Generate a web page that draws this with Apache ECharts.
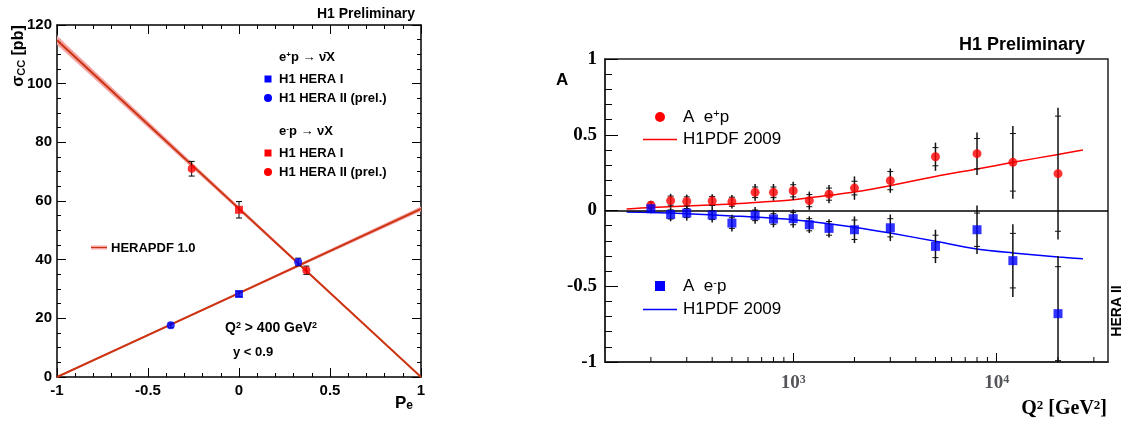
<!DOCTYPE html>
<html><head><meta charset="utf-8">
<script src="https://cdn.jsdelivr.net/npm/echarts@6/dist/echarts.min.js"></script>
<style>html,body{margin:0;padding:0;background:#fff}#c{width:1128px;height:423px}</style>
</head><body><div id="c"></div>
<script>
// ---------- Left panel data (sigma_CC vs P_e) ----------
const leftP = [-1, 0, 1];
const epFit = [0, 28.6, 57.3];
const epBandHalf = [0.2, 0.4, 0.8];
const emFit = [114.8, 57.4, 0];
const emBandHalf = [1.5, 0.7, 0.2];
// [P_e, sigma, error]
const epHera1 = [[0, 28.3, 0.8]];
const epHera2 = [[-0.375, 17.6, 0.8], [0.325, 39.2, 1.3]];
const emHera1 = [[0, 57.0, 2.8]];
const emHera2 = [[-0.26, 71.0, 2.5], [0.37, 36.4, 1.4]];

// ---------- Right panel data (A vs Q^2) ----------
const q2 = [200, 250, 300, 400, 500, 650, 800, 1000, 1200, 1500, 2000, 3000, 5000, 8000, 12000, 20000];
const aPos = [0.035, 0.065, 0.06, 0.063, 0.058, 0.12, 0.12, 0.13, 0.065, 0.108, 0.148, 0.197, 0.355, 0.375, 0.318, 0.243];
const aPosStat = [0.02, 0.03, 0.03, 0.03, 0.03, 0.035, 0.035, 0.04, 0.04, 0.04, 0.045, 0.06, 0.06, 0.1, 0.19, 0.38];
const aPosTot = [0.03, 0.045, 0.045, 0.045, 0.045, 0.055, 0.055, 0.06, 0.06, 0.06, 0.077, 0.08, 0.093, 0.14, 0.24, 0.435];
const aNeg = [0.012, -0.026, -0.017, -0.03, -0.083, -0.032, -0.056, -0.054, -0.094, -0.118, -0.127, -0.114, -0.237, -0.127, -0.331, -0.681];
const aNegStat = [0.02, 0.03, 0.03, 0.03, 0.035, 0.035, 0.035, 0.04, 0.04, 0.045, 0.064, 0.06, 0.074, 0.11, 0.18, 0.31];
const aNegTot = [0.03, 0.045, 0.05, 0.05, 0.055, 0.055, 0.055, 0.06, 0.055, 0.06, 0.088, 0.088, 0.11, 0.16, 0.24, 0.38];
const fitQ2 = [152, 200, 300, 500, 650, 1000, 1500, 2000, 3000, 5000, 8000, 12000, 20000, 26500];
const fitPos = [0.01, 0.02, 0.03, 0.043, 0.053, 0.071, 0.1, 0.122, 0.164, 0.225, 0.274, 0.318, 0.37, 0.4];
const fitNeg = [-0.01, -0.014, -0.021, -0.036, -0.043, -0.061, -0.087, -0.11, -0.149, -0.203, -0.254, -0.28, -0.307, -0.318];
const minorTickQ2 = [200, 300, 400, 500, 600, 700, 800, 900, 2000, 3000, 4000, 5000, 6000, 7000, 8000, 9000, 20000, 30000];

const SANS = "'Liberation Sans', Arial, sans-serif";
const SERIF = "'Liberation Serif', 'Times New Roman', serif";
const FITC = '#cc3311';
const BANDC = '#f4a4a4';

const zip = (xs, ys) => xs.map((x, i) => [x, ys[i]]);
// band segments: [x0, lo0, hi0, x1, lo1, hi1]
const bandSegs = (xs, fit, half) => xs.slice(0, -1).map((x, i) =>
  [x, fit[i] - half[i], fit[i] + half[i], xs[i + 1], fit[i + 1] - half[i + 1], fit[i + 1] + half[i + 1]]);

function bandItem(params, api) {
  const a = api.coord([api.value(0), api.value(1)]);
  const b = api.coord([api.value(0), api.value(2)]);
  const c = api.coord([api.value(3), api.value(5)]);
  const d = api.coord([api.value(3), api.value(4)]);
  return {type: 'polygon', shape: {points: [a, b, c, d]}, style: {fill: BANDC}};
}
function leftErr(params, api) {
  const x = api.value(0), y = api.value(1), e = api.value(2);
  const t = api.coord([x, y + e]), b = api.coord([x, y - e]);
  const st = {stroke: '#000', lineWidth: 1};
  return {type: 'group', children: [
    {type: 'line', shape: {x1: t[0], y1: t[1], x2: b[0], y2: b[1]}, style: st},
    {type: 'line', shape: {x1: t[0] - 3, y1: t[1], x2: t[0] + 3, y2: t[1]}, style: st},
    {type: 'line', shape: {x1: b[0] - 3, y1: b[1], x2: b[0] + 3, y2: b[1]}, style: st}
  ]};
}
function rightErr(params, api) {
  const x = api.value(0), y = api.value(1), s = api.value(2), tt = api.value(3);
  const clamp = v => Math.max(-1, Math.min(1, v));
  const t = api.coord([x, clamp(y + tt)]), b = api.coord([x, clamp(y - tt)]);
  const st = {stroke: '#111', lineWidth: 1.5};
  const ch = [{type: 'line', shape: {x1: t[0], y1: t[1], x2: b[0], y2: b[1]}, style: st}];
  [y + s, y - s].forEach(v => {
    if (v > -1 && v < 1) {
      const p = api.coord([x, v]);
      ch.push({type: 'line', shape: {x1: p[0] - 3, y1: p[1], x2: p[0] + 3, y2: p[1]}, style: {stroke: '#111', lineWidth: 1}});
    }
  });
  return {type: 'group', children: ch};
}
function minorTicks(params, api) {
  const p = api.coord([api.value(0), -1]);
  return {type: 'line', shape: {x1: p[0], y1: p[1], x2: p[0], y2: p[1] - 5}, style: {stroke: '#000', lineWidth: 1}};
}

const axLine = {onZero: false, lineStyle: {color: '#000', width: 1.5}};
const leftTick = {inside: true, length: 9, lineStyle: {color: '#000', width: 1}};
const leftLabel = {color: '#000', fontFamily: SANS, fontWeight: 'bold', fontSize: 15};

const txt = (x, y, text, size, opts) => Object.assign({
  type: 'text', x: x, y: y,
  style: Object.assign({text: text, fill: '#000', fontFamily: SANS, fontWeight: 'bold', fontSize: size, align: 'left', verticalAlign: 'middle'}, (opts && opts.style) || {})
}, (opts && opts.el) || {});

function richStyle(size, fam, weight) {
  return {
    t: {fontSize: size, fontFamily: fam, fontWeight: weight, fill: '#000'},
    sup: {fontSize: Math.round(size * 0.65), fontFamily: fam, fontWeight: weight, fill: '#000', verticalAlign: 'top'},
    sub: {fontSize: Math.round(size * 0.7), fontFamily: fam, fontWeight: weight, fill: '#000', verticalAlign: 'bottom'}
  };
}

const chart = echarts.init(document.getElementById('c'), null, {renderer: 'canvas'});
chart.setOption({
  backgroundColor: '#fff',
  animation: false,
  grid: [
    {left: 57, top: 25, width: 364, height: 352},
    {left: 605, top: 59, width: 503, height: 303, show: true, borderColor: '#222', borderWidth: 1.5, backgroundColor: 'transparent'}
  ],
  xAxis: [
    {gridIndex: 0, type: 'value', min: -1, max: 1, interval: 0.5, position: 'bottom',
      axisLine: axLine, axisTick: leftTick,
      minorTick: {show: true, splitNumber: 5, length: 4, lineStyle: {color: '#000'}},
      axisLabel: Object.assign({margin: 6}, leftLabel), splitLine: {show: false}},
    {gridIndex: 0, type: 'value', min: -1, max: 1, interval: 0.5, position: 'top',
      axisLine: axLine, axisTick: leftTick,
      minorTick: {show: true, splitNumber: 5, length: 4, lineStyle: {color: '#000'}},
      axisLabel: {show: false}, splitLine: {show: false}},
    {gridIndex: 1, type: 'log', logBase: 10, min: 119, max: 35200, position: 'bottom',
      axisLine: {onZero: false, lineStyle: {color: '#222', width: 1.5}},
      axisTick: {inside: true, length: 9, lineStyle: {color: '#000', width: 1}},
      axisLabel: {margin: 12, formatter: v => {
        const l = Math.log10(v), r = Math.round(l);
        if (Math.abs(l - r) > 1e-6) return '';
        return '{t|10}{sup|' + r + '}';
      }, rich: richStyle(19, SERIF, 'bold'), showMinLabel: false, showMaxLabel: false},
      splitLine: {show: false}, minorSplitLine: {show: false}}
  ],
  yAxis: [
    {gridIndex: 0, type: 'value', min: 0, max: 120, interval: 20, position: 'left',
      axisLine: axLine, axisTick: leftTick,
      minorTick: {show: true, splitNumber: 4, length: 4, lineStyle: {color: '#000'}},
      axisLabel: Object.assign({margin: 5}, leftLabel), splitLine: {show: false}},
    {gridIndex: 0, type: 'value', min: 0, max: 120, interval: 20, position: 'right',
      axisLine: axLine, axisTick: leftTick,
      minorTick: {show: true, splitNumber: 4, length: 4, lineStyle: {color: '#000'}},
      axisLabel: {show: false}, splitLine: {show: false}},
    {gridIndex: 1, type: 'value', min: -1, max: 1, interval: 0.5, position: 'left',
      axisLine: {onZero: false, lineStyle: {color: '#222', width: 1.5}},
      axisTick: {inside: true, length: 13, lineStyle: {color: '#000', width: 1}},
      minorTick: {show: true, splitNumber: 5, length: 7, lineStyle: {color: '#000'}},
      axisLabel: {margin: 8, color: '#000', fontFamily: SERIF, fontWeight: 'bold', fontSize: 19},
      splitLine: {show: false}}
  ],
  series: [
    // left bands
    {type: 'custom', xAxisIndex: 0, yAxisIndex: 0, renderItem: bandItem, silent: true, z: 2,
      data: bandSegs(leftP, epFit, epBandHalf)},
    {type: 'custom', xAxisIndex: 0, yAxisIndex: 0, renderItem: bandItem, silent: true, z: 2,
      data: bandSegs(leftP, emFit, emBandHalf)},
    // left fit lines
    {type: 'line', xAxisIndex: 0, yAxisIndex: 0, symbol: 'none', lineStyle: {color: FITC, width: 2}, data: zip(leftP, epFit), z: 3},
    {type: 'line', xAxisIndex: 0, yAxisIndex: 0, symbol: 'none', lineStyle: {color: FITC, width: 2}, data: zip(leftP, emFit), z: 3},
    // left error bars
    {type: 'custom', xAxisIndex: 0, yAxisIndex: 0, renderItem: leftErr, z: 4,
      data: [].concat(epHera1, epHera2, emHera1, emHera2)},
    // left points
    {type: 'scatter', xAxisIndex: 0, yAxisIndex: 0, symbol: 'rect', symbolSize: 8, itemStyle: {color: '#0000ff'}, data: epHera1.map(d => [d[0], d[1]]), z: 5},
    {type: 'scatter', xAxisIndex: 0, yAxisIndex: 0, symbol: 'circle', symbolSize: 8, itemStyle: {color: '#0000ff'}, data: epHera2.map(d => [d[0], d[1]]), z: 5},
    {type: 'scatter', xAxisIndex: 0, yAxisIndex: 0, symbol: 'rect', symbolSize: 8, itemStyle: {color: '#ff0000'}, data: emHera1.map(d => [d[0], d[1]]), z: 5},
    {type: 'scatter', xAxisIndex: 0, yAxisIndex: 0, symbol: 'circle', symbolSize: 8, itemStyle: {color: '#ff0000'}, data: emHera2.map(d => [d[0], d[1]]), z: 5},
    // right fits
    {type: 'line', xAxisIndex: 2, yAxisIndex: 2, symbol: 'none', smooth: 0.3, lineStyle: {color: '#ff0000', width: 1.5},
      data: zip(fitQ2, fitPos), z: 3,
      markLine: {silent: true, symbol: 'none', label: {show: false}, lineStyle: {color: '#000', width: 1.5, type: 'solid'}, data: [{yAxis: 0}]}},
    {type: 'line', xAxisIndex: 2, yAxisIndex: 2, symbol: 'none', smooth: 0.3, lineStyle: {color: '#0000ff', width: 1.5},
      data: zip(fitQ2, fitNeg), z: 3},
    // right minor ticks (log axis)
    {type: 'custom', xAxisIndex: 2, yAxisIndex: 2, renderItem: minorTicks, silent: true, data: minorTickQ2.map(q => [q, -1])},
    // right error bars
    {type: 'custom', xAxisIndex: 2, yAxisIndex: 2, renderItem: rightErr, z: 4,
      data: q2.map((q, i) => [q, aPos[i], aPosStat[i], aPosTot[i]])},
    {type: 'custom', xAxisIndex: 2, yAxisIndex: 2, renderItem: rightErr, z: 4,
      data: q2.map((q, i) => [q, aNeg[i], aNegStat[i], aNegTot[i]])},
    // right points
    {type: 'scatter', xAxisIndex: 2, yAxisIndex: 2, symbol: 'circle', symbolSize: 9, itemStyle: {color: '#ff0000'}, data: zip(q2, aPos), z: 5},
    {type: 'scatter', xAxisIndex: 2, yAxisIndex: 2, symbol: 'rect', symbolSize: 9, itemStyle: {color: '#0000ff'}, data: zip(q2, aNeg), z: 5}
  ],
  graphic: [
    // left panel texts
    txt(415, 14, 'H1 Preliminary', 14, {style: {align: 'right'}}),
    txt(19, 56, '{t|σ}{sub|CC}{t| [pb]}', 15, {style: {align: 'center', rich: richStyle(16, SANS, 'bold')}, el: {rotation: Math.PI / 2}}),
    txt(395, 403, '{t|P}{sub|e}', 16, {style: {rich: richStyle(17, SANS, 'bold')}}),
    txt(279, 57, '{t|e}{sup|+}{t|p → ν̄X}', 13, {style: {rich: richStyle(13, SANS, 'bold')}}),
    {type: 'rect', shape: {x: 264.5, y: 75.5, width: 7, height: 7}, style: {fill: '#0000ff'}},
    txt(279, 79, 'H1 HERA I', 13),
    {type: 'circle', shape: {cx: 268, cy: 98, r: 4}, style: {fill: '#0000ff'}},
    txt(279, 98, 'H1 HERA II (prel.)', 13),
    txt(279, 131, '{t|e}{sup|-}{t|p → νX}', 13, {style: {rich: richStyle(13, SANS, 'bold')}}),
    {type: 'rect', shape: {x: 264.5, y: 149.5, width: 7, height: 7}, style: {fill: '#ff0000'}},
    txt(279, 153, 'H1 HERA I', 13),
    {type: 'circle', shape: {cx: 268, cy: 172, r: 4}, style: {fill: '#ff0000'}},
    txt(279, 172, 'H1 HERA II (prel.)', 13),
    {type: 'rect', shape: {x: 91, y: 245.5, width: 16, height: 4}, style: {fill: BANDC}},
    {type: 'line', shape: {x1: 91, y1: 247.5, x2: 107, y2: 247.5}, style: {stroke: FITC, lineWidth: 1}},
    txt(111, 248, 'HERAPDF 1.0', 13),
    txt(225, 328, '{t|Q}{sup|2}{t| > 400 GeV}{sup|2}', 13, {style: {rich: richStyle(14, SANS, 'bold')}}),
    txt(233, 352, 'y < 0.9', 13),
    // right panel texts
    txt(1085, 45, 'H1 Preliminary', 18, {style: {align: 'right'}}),
    txt(556, 80, 'A', 17),
    txt(1107, 409, '{t|Q}{sup|2}{t| [GeV}{sup|2}{t|]}', 20, {style: {align: 'right', rich: richStyle(20, SERIF, 'bold')}}),
    txt(1117, 311, 'HERA II', 14, {style: {align: 'center'}, el: {rotation: Math.PI / 2}}),
    {type: 'circle', shape: {cx: 660, cy: 117, r: 5}, style: {fill: '#ff0000'}},
    txt(683, 117, '{t|A  e}{sup|+}{t|p}', 17, {style: {rich: richStyle(17, SANS, 'normal')}}),
    {type: 'line', shape: {x1: 643, y1: 139.5, x2: 677, y2: 139.5}, style: {stroke: '#ff0000', lineWidth: 1.5}},
    txt(683, 139.5, 'H1PDF 2009', 17, {style: {fontWeight: 'normal'}}),
    {type: 'rect', shape: {x: 655, y: 281, width: 10, height: 10}, style: {fill: '#0000ff'}},
    txt(683, 286, '{t|A  e}{sup|-}{t|p}', 17, {style: {rich: richStyle(17, SANS, 'normal')}}),
    {type: 'line', shape: {x1: 643, y1: 309.5, x2: 677, y2: 309.5}, style: {stroke: '#0000ff', lineWidth: 1.5}},
    txt(683, 309.5, 'H1PDF 2009', 17, {style: {fontWeight: 'normal'}})
  ]
});
</script></body></html>
